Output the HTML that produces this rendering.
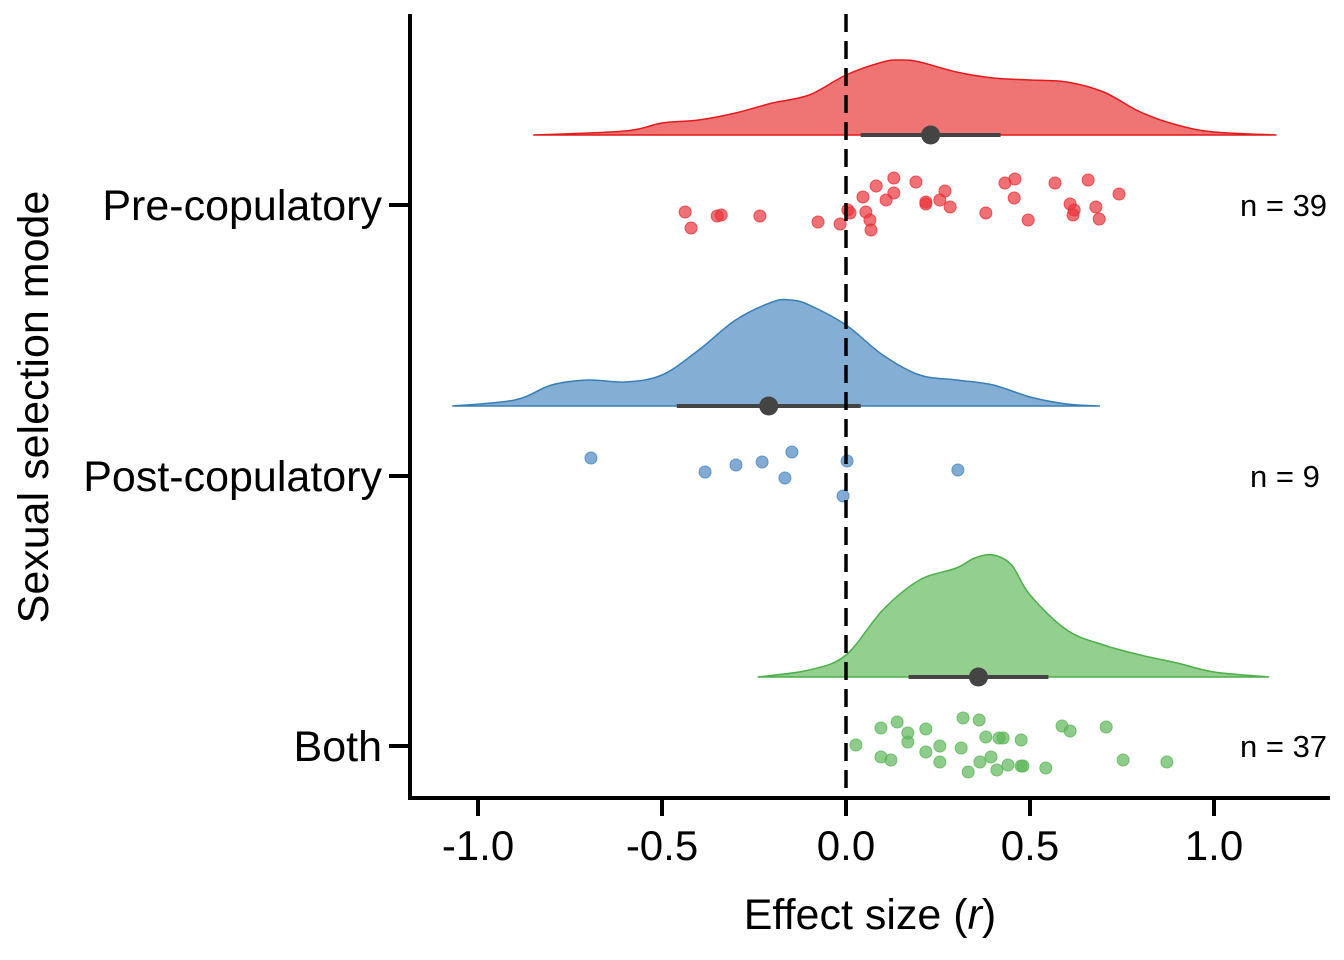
<!DOCTYPE html>
<html><head><meta charset="utf-8"><style>
html,body{margin:0;padding:0;background:#fff}
svg{display:block;font-family:"Liberation Sans",Arial,sans-serif}
</style></head><body>
<svg id="chart" width="1344" height="960" viewBox="0 0 1344 960" xmlns="http://www.w3.org/2000/svg">
<g id="dens"></g>
<g id="pts"></g>
<g id="ci"></g>
<line x1="846" y1="14" x2="846" y2="798" stroke="#000" stroke-width="3.5" stroke-dasharray="18,9"/>
<line x1="410" y1="14" x2="410" y2="800" stroke="#000" stroke-width="4"/>
<line x1="408" y1="798" x2="1330" y2="798" stroke="#000" stroke-width="4"/>
<g id="axes"></g>
<text x="870" y="929" font-size="43" text-anchor="middle">Effect size (<tspan font-style="italic">r</tspan>)</text>
<text transform="translate(48,407) rotate(-90)" font-size="43" text-anchor="middle">Sexual selection mode</text>
</svg>
<script>
const categories=["Pre-copulatory","Post-copulatory","Both"];
const nLabels=["n = 39","n = 9","n = 37"];
const xTicks=[-1.0,-0.5,0.0,0.5,1.0];
const means=[0.23,-0.21,0.36];
const ciLow=[0.04,-0.46,0.17];
const ciHigh=[0.42,0.04,0.55];
const densRedX=[-0.85,-0.6,-0.5,-0.4,-0.3,-0.2,-0.1,0.0,0.1,0.15,0.2,0.3,0.4,0.5,0.6,0.7,0.8,0.9,1.0,1.17];
const densRedY=[0,4,12,15,22,32,40,60,73,75,73,63,57,55,53,43,23,10,3,0];
const densBlueX=[-1.07,-0.9,-0.8,-0.7,-0.6,-0.5,-0.4,-0.3,-0.2,-0.15,-0.1,0.0,0.1,0.2,0.3,0.4,0.5,0.6,0.69];
const densBlueY=[0,6,21,26,24,31,56,86,104,106,101,81,51,31,26,21,9,2,0];
const densGreenX=[-0.24,-0.1,0.0,0.1,0.2,0.3,0.35,0.4,0.45,0.5,0.6,0.7,0.8,0.9,1.0,1.15];
const densGreenY=[0,7,22,67,97,109,119,122,112,82,47,32,22,14,5,0];
const redPts=[-0.437,-0.421,-0.350,-0.339,-0.234,-0.076,-0.016,0.005,0.011,0.046,0.054,0.065,0.068,0.082,0.109,0.130,0.130,0.190,0.217,0.217,0.255,0.269,0.283,0.380,0.432,0.459,0.457,0.495,0.568,0.609,0.617,0.620,0.658,0.679,0.688,0.742];
const redJit=[7,23,11,10,11,17,19,5,8,-8,7,15,25,-19,-5,-27,-12,-23,-3,-1,-5,-14,2,8,-22,-26,-7,15,-22,-1,10,5,-25,2,14,-11];
const bluePts=[-0.693,-0.383,-0.299,-0.228,-0.166,-0.147,-0.008,0.003,0.304];
const blueJit=[-18,-4,-11,-14,2,-24,20,-15,-6];
const greenPts=[0.027,0.095,0.095,0.122,0.139,0.168,0.168,0.217,0.217,0.255,0.255,0.318,0.313,0.332,0.362,0.364,0.380,0.394,0.410,0.416,0.427,0.440,0.476,0.476,0.481,0.543,0.587,0.609,0.707,0.753,0.872];
const greenJit=[-1,-18,11,14,-24,-13,-4,-17,6,0,16,-28,2,26,-26,16,-9,11,24,-8,-8,19,-6,20,20,22,-20,-15,-19,14,16];
const X=v=>846+v*368;
const catY=[205,476,746], base=[135,406,677];
const fills=["#ef7474","#84aed3","#93cf8e"], strokes=["#e41a1c","#377eb8","#4daf4a"], ptc=["#e8343a","#4b87bf","#5cb758"];
const NS="http://www.w3.org/2000/svg";
function mk(t,a,p){const e=document.createElementNS(NS,t);for(const k in a)e.setAttribute(k,a[k]);p.appendChild(e);return e;}
const dens=document.getElementById('dens');
[[densRedX,densRedY],[densBlueX,densBlueY],[densGreenX,densGreenY]].forEach((d,i)=>{
  const P=d[0].map((x,j)=>[X(x),base[i]-d[1][j]]);
  let s=`M${P[0][0]},${P[0][1]}`;
  for(let j=0;j<P.length-1;j++){const p0=P[j-1]||P[j],p1=P[j],p2=P[j+1],p3=P[j+2]||p2;
    s+=` C${p1[0]+(p2[0]-p0[0])/6},${p1[1]+(p2[1]-p0[1])/6} ${p2[0]-(p3[0]-p1[0])/6},${p2[1]-(p3[1]-p1[1])/6} ${p2[0]},${p2[1]}`;}
  s+=' Z';
  const e=mk('path',{d:s,fill:fills[i],stroke:strokes[i],'stroke-width':1.5},dens);
  
  
});
const pts=document.getElementById('pts');
[[redPts,redJit],[bluePts,blueJit],[greenPts,greenJit]].forEach((d,i)=>{
  d[0].forEach((v,j)=>{const c=mk('circle',{cx:X(v),cy:catY[i]+d[1][j],r:6,fill:ptc[i],'fill-opacity':0.7,stroke:ptc[i],'stroke-opacity':0.8},pts);
    
    });
});
const ci=document.getElementById('ci');
means.forEach((m,i)=>{
  const l=mk('line',{x1:X(ciLow[i]),x2:X(ciHigh[i]),y1:base[i],y2:base[i],stroke:'#444','stroke-width':4},ci);
  
  
  const c=mk('circle',{cx:X(m),cy:base[i],r:9.5,fill:'#444'},ci);
  
  
});
const ax=document.getElementById('axes');
categories.forEach((c,i)=>{
  const t=mk('line',{x1:389,x2:410,y1:catY[i],y2:catY[i],stroke:'#000','stroke-width':4},ax);
  
  
  const tx=mk('text',{x:382,y:catY[i]+15,'font-size':43,'text-anchor':'end'},ax);tx.textContent=c;
  
  
  const n=mk('text',{x:1240,y:catY[i]+11,'font-size':31},ax);n.textContent=nLabels[i];
  if(i==1)n.setAttribute('x',1250);
  
  
});
xTicks.forEach(v=>{
  const t=mk('line',{x1:X(v),x2:X(v),y1:798,y2:816,stroke:'#000','stroke-width':4},ax);
  
  
  const tx=mk('text',{x:X(v),y:860,'font-size':42,'text-anchor':'middle'},ax);tx.textContent=v.toFixed(1);
  
  
});
</script>
</body></html>
